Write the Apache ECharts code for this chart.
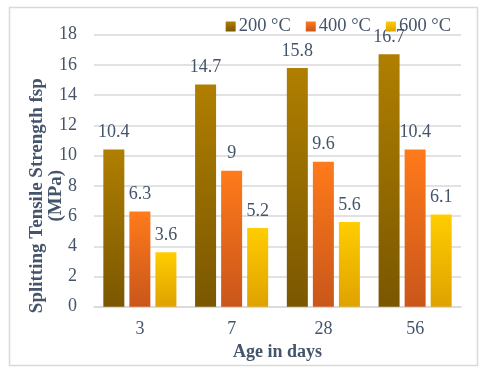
<!DOCTYPE html>
<html>
<head>
<meta charset="utf-8">
<script src="https://cdn.jsdelivr.net/npm/echarts@6/dist/echarts.min.js"></script>
<style>html,body{margin:0;padding:0;background:#fff}#c{width:480px;height:368px}</style>
</head>
<body>
<div id="c"></div>
<script>
var categories = ['3', '7', '28', '56'];
var seriesNames = ['200 °C', '400 °C', '600 °C'];
var s200 = [10.4, 14.7, 15.8, 16.7];
var s400 = [6.3, 9, 9.6, 10.4];
var s600 = [3.6, 5.2, 5.6, 6.1];
var yTicks = [0, 2, 4, 6, 8, 10, 12, 14, 16, 18];

var FONT = '"Liberation Serif", "Times New Roman", serif';
var TXT = '#44546A';
function grad(top, bottom) {
  return new echarts.graphic.LinearGradient(0, 0, 0, 1, [
    {offset: 0, color: top}, {offset: 1, color: bottom}
  ]);
}
var colors = [grad('#B07F00', '#7A5700'), grad('#FF7A1A', '#C9561A'), grad('#FFCD00', '#DFA200')];
var values = [s200, s400, s600];

var chart = echarts.init(document.getElementById('c'), null, {renderer: 'canvas'});
chart.setOption({
  animation: false,
  textStyle: {fontFamily: FONT},
  graphic: [{
    type: 'rect', left: 7, top: 5, shape: {width: 468, height: 358},
    style: {fill: 'none', stroke: '#D9D9D9', lineWidth: 1.5}, z: -1
  }],
  legend: {
    right: 24, top: 12, itemWidth: 10, itemHeight: 10, itemGap: 15,
    icon: 'rect',
    textStyle: {fontFamily: FONT, fontSize: 18.5, color: TXT, padding: [0, 0, 0, -2]},
    data: seriesNames
  },
  grid: {left: 94, right: 19, top: 34.7, bottom: 61.3, containLabel: false},
  xAxis: {
    type: 'category', data: categories,
    name: 'Age in days', nameLocation: 'middle', nameGap: 36,
    nameTextStyle: {fontFamily: FONT, fontSize: 18, fontWeight: 'bold', color: TXT},
    axisLine: {lineStyle: {color: '#D9D9D9', width: 1.5}},
    axisTick: {show: false},
    axisLabel: {fontFamily: FONT, fontSize: 18, color: TXT, margin: 14}
  },
  yAxis: {
    type: 'value', min: 0, max: 18, interval: 2,
    name: 'Splitting Tensile Strength fsp\n(MPa)', nameLocation: 'middle', nameGap: 28,
    nameMoveOverlap: false,
    nameTextStyle: {fontFamily: FONT, fontSize: 19, fontWeight: 'bold', color: TXT, lineHeight: 19,
      padding: [0, 50, 0, 0]},
    axisLine: {show: false}, axisTick: {show: false},
    splitLine: {lineStyle: {color: '#D9D9D9', width: 1.5}},
    axisLabel: {fontFamily: FONT, fontSize: 18, color: TXT, margin: 17,
      formatter: function (v) { return yTicks.indexOf(v) >= 0 ? String(v) : ''; }}
  },
  series: values.map(function (d, i) {
    return {
      type: 'bar', name: seriesNames[i], data: d,
      barWidth: 21, barGap: '24%',
      itemStyle: {color: colors[i]},
      label: {show: true, position: 'top', distance: 8,
        fontFamily: FONT, fontSize: 18, color: TXT}
    };
  })
});
</script>
</body>
</html>
